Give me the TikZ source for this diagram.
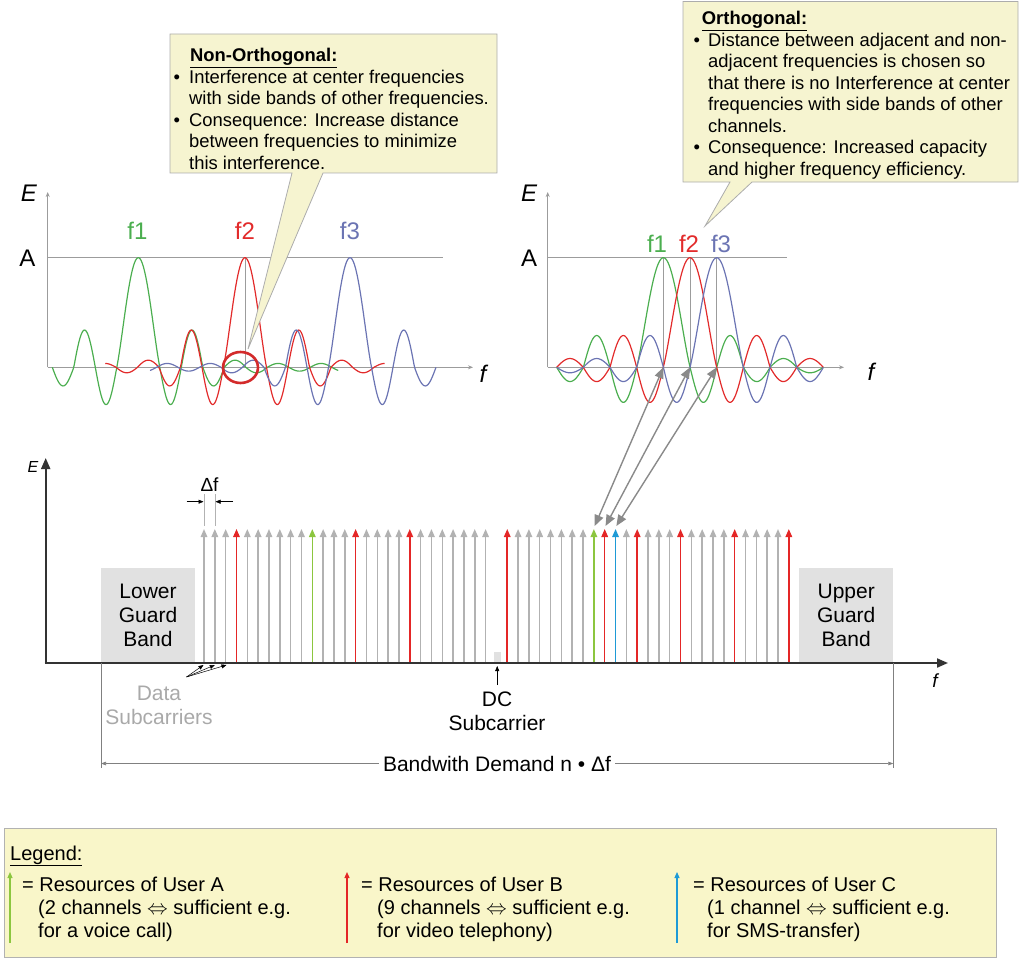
\documentclass[tikz,border=0pt]{standalone}
\usepackage{fontspec}
\setmainfont{Liberation Sans}
\usetikzlibrary{arrows.meta}
\definecolor{callfill}{HTML}{F6F4D0}
\definecolor{legfill}{HTML}{F9F6C9}
\definecolor{cgreen}{HTML}{4BAE4F}
\definecolor{cred}{HTML}{E22B2B}
\definecolor{cblue}{HTML}{6B74B3}
\definecolor{sgray}{HTML}{B2B2B2}
\definecolor{sred}{HTML}{E42626}
\definecolor{sgreen}{HTML}{8CC63F}
\definecolor{sblue}{HTML}{1E9AD6}
\definecolor{axgray}{HTML}{9C9C9C}
\definecolor{guard}{HTML}{E1E1E1}
\definecolor{darkax}{HTML}{333333}
\definecolor{linkgray}{HTML}{8A8A8A}
\definecolor{txtgray}{HTML}{A9A9A9}
\definecolor{circred}{HTML}{D32B2B}
\tikzset{
  ax/.style={draw=axgray, line width=0.8pt, -{Stealth[length=5pt,width=4pt]}},
  aline/.style={draw=axgray, line width=0.8pt},
  curve/.style={line width=1.2pt},
  plab/.style={inner sep=0pt, font=\fontsize{24}{28}\selectfont},
  plabi/.style={inner sep=0pt, font=\fontsize{24}{28}\selectfont\itshape},
  ctext/.style={anchor=base west, inner sep=0pt, font=\fontsize{18.4}{22}\selectfont},
  call/.style={fill=callfill, draw=gray!65, line width=0.8pt, line join=miter},
  big/.style={inner sep=0pt, align=center, font=\fontsize{21}{24}\selectfont},
  ltext/.style={anchor=base west, inner sep=0pt, font=\fontsize{20}{23}\selectfont},
  sc/.style={line width=1.5pt, -{Triangle[length=8pt,width=6.5pt]}},
  mainax/.style={draw=darkax, line width=2pt, -{Triangle[length=11pt,width=9pt]}},
  link/.style={draw=linkgray, line width=1.4pt, {Triangle[length=11pt,width=9pt]}-{Triangle[length=11pt,width=9pt]}},
  smallarr/.style={draw=black, line width=0.5pt, -{Triangle[length=5pt,width=4pt]}},
  dimline/.style={draw=gray, line width=0.6pt},
  legarrow/.style={line width=1.2pt, -{Triangle[length=6pt,width=5pt]}},
}
\begin{document}
\begin{tikzpicture}[x=1pt,y=-1pt,
  declare function={
    lobe(\x)=(1-\x*\x)*(1-0.5*\x*\x);
    ampL(\x)=ifthenelse(\x<3,0.34,ifthenelse(\x<4,0.17,ifthenelse(\x<5,0.065,ifthenelse(\x<6,0.05,0.035))));
    ampR(\x)=ifthenelse(\x<2,0.32,ifthenelse(\x<3,0.29,ifthenelse(\x<4,0.13,ifthenelse(\x<5,0.08,0.05))));
    shpL(\x)=ifthenelse(abs(\x)<1,lobe(\x),sin(180*abs(\x))*ampL(abs(\x)));
    shpR(\x)=ifthenelse(abs(\x)<1,lobe(\x),sin(180*abs(\x))*ampR(abs(\x)));
  }]
\useasboundingbox (0,0) rectangle (1024,960);

% ---------------- left plot ----------------
\coordinate (LO) at (47.7,367.3);
\coordinate (LE) at (47.7,192);
\coordinate (LF) at (473,367.3);
\coordinate (LA1) at (47.7,257.7);
\coordinate (LA2) at (443,257.7);
\coordinate (LV1) at (245,367.3);
\coordinate (LV2) at (245,257.7);
\draw[aline] (LA1) -- (LA2);
\draw[aline] (LV1) -- (LV2);
\draw[ax] (LO) -- (LE);
\draw[ax] (LO) -- (LF);
\draw[cgreen, curve] plot[domain=-4:9.3, samples=300] ({138.3+21.5*\x},{367.3-109.6*shpL(\x)});
\draw[cred, curve] plot[domain=-6.5:6.5, samples=300] ({245+21.5*\x},{367.3-109.6*shpL(\x)});
\draw[cblue, curve] plot[domain=-9.3:4, samples=300] ({350+21.5*\x},{367.3-109.6*shpL(\x)});
\draw[circred, line width=2.6pt] (240.5,367.5) ellipse [x radius=17.5, y radius=15.5];
\node[plabi] (LEl) at (29,193) {E};
\node[plab] (LAl) at (27.5,258.5) {A};
\node[plab, text=cgreen] (Lf1) at (137.5,231) {f1};
\node[plab, text=cred] (Lf2) at (245,231) {f2};
\node[plab, text=cblue] (Lf3) at (350,231) {f3};
\node[plabi] (Lfl) at (483,374) {f};

% ---------------- right plot ----------------
\coordinate (RO) at (547.7,367.3);
\coordinate (RE) at (547.7,192);
\coordinate (RF) at (844,367.3);
\coordinate (RA1) at (547.7,257.7);
\coordinate (RA2) at (787,257.7);
\coordinate (p1) at (663.4,367.3);
\coordinate (p2) at (690,367.3);
\coordinate (p3) at (716.7,367.3);
\coordinate (q1) at (663.4,257.7);
\coordinate (q2) at (690,257.7);
\coordinate (q3) at (716.7,257.7);
\draw[aline] (RA1) -- (RA2);
\draw[aline] (p1) -- (q1);
\draw[aline] (p2) -- (q2);
\draw[aline] (p3) -- (q3);
\draw[ax] (RO) -- (RE);
\draw[ax] (RO) -- (RF);
\draw[cgreen, curve] plot[domain=-4:6, samples=250] ({663.4+26.67*\x},{367.3-109.6*shpR(\x)});
\draw[cred, curve] plot[domain=-5:5, samples=250] ({690+26.67*\x},{367.3-109.6*shpR(\x)});
\draw[cblue, curve] plot[domain=-6:4, samples=250] ({716.7+26.67*\x},{367.3-109.6*shpR(\x)});
\node[plabi] (REl) at (529,193) {E};
\node[plab] (RAl) at (529,258.5) {A};
\node[plab, text=cgreen] (Rf1) at (657,244) {f1};
\node[plab, text=cred] (Rf2) at (689,244) {f2};
\node[plab, text=cblue] (Rf3) at (721,244) {f3};
\node[plabi] (Rfl) at (871,372) {f};

% ---------------- callouts ----------------
\draw[call] (170,34) -- (497,34) -- (497,173) -- (323,173) -- (248,349) -- (292,173) -- (170,173) -- cycle;
\node[ctext] (n0) at (190,61.5) {\underline{\textbf{Non-Orthogonal:}}};
\node[ctext] (n1) at (173.5,83.1) {\makebox[15.5pt][l]{\textbullet}Interference at center frequencies};
\node[ctext] (n2) at (189,104.7) {with side bands of other frequencies.};
\node[ctext] (n3) at (173.5,126.3) {\makebox[15.5pt][l]{\textbullet}Consequence: Increase distance};
\node[ctext] (n4) at (189,147.9) {between frequencies to minimize};
\node[ctext] (n5) at (189,169.5) {this interference.};

\draw[call] (683,1.5) -- (1018,1.5) -- (1018,182) -- (752,182) -- (705,226) -- (730,182) -- (683,182) -- cycle;
\node[ctext] (o0) at (701.7,25) {\underline{\textbf{Orthogonal:}}};
\node[ctext] (o1) at (693.5,46.5) {\makebox[14.5pt][l]{\textbullet}Distance between adjacent and non-};
\node[ctext] (o2) at (708,68) {adjacent frequencies is chosen so};
\node[ctext] (o3) at (708,89.5) {that there is no Interference at center};
\node[ctext] (o4) at (708,111) {frequencies with side bands of other};
\node[ctext] (o5) at (708,132.5) {channels.};
\node[ctext] (o6) at (693.5,154) {\makebox[14.5pt][l]{\textbullet}Consequence: Increased capacity};
\node[ctext] (o7) at (708,175.5) {and higher frequency efficiency.};

% ---------------- spectrum ----------------
\node[big, fill=guard, minimum width=94pt, minimum height=95pt] (lgb) at (148,615.5) {Lower\\Guard\\Band};
\node[big, fill=guard, minimum width=94pt, minimum height=95pt] (ugb) at (846.2,615.5) {Upper\\Guard\\Band};
\fill[guard] (494,652) rectangle (500.5,663);

\foreach \i in {0,...,54}{
  \pgfmathsetmacro\xx{204+10.83*\i}
  \coordinate (b\i) at (\xx,663);
  \coordinate (t\i) at (\xx,529);
  \coordinate (s\i) at (\xx+0.8,526);
}
\foreach \i in {0,1,2,4,5,6,7,8,9,11,12,13,15,16,17,18,20,21,22,23,24,25,26,29,30,31,32,33,34,35,39,41,42,43,45,46,47,48,50,51,52,53}
  \draw[sc, sgray] (b\i) -- (t\i);
\foreach \i in {3,14,19,28,37,40,44,49,54}
  \draw[sc, sred] (b\i) -- (t\i);
\foreach \i in {10,36}
  \draw[sc, sgreen] (b\i) -- (t\i);
\draw[sc, sblue] (b38) -- (t38);

% axes
\coordinate (SO) at (45.7,663);
\coordinate (SOx) at (44.7,663);
\coordinate (SE) at (45.7,458);
\coordinate (SF) at (948,663);
\draw[mainax] (SOx) -- (SF);
\draw[mainax] (SO) -- (SE);
\node[inner sep=0pt, font=\fontsize{16}{18}\selectfont\itshape] (SEl) at (33,467) {E};
\node[inner sep=0pt, font=\fontsize{19}{22}\selectfont\itshape] (SFl) at (935,681) {f};

% delta f
\coordinate (e1a) at (204,494);
\coordinate (e1b) at (204,526);
\coordinate (e2a) at (214.8,494);
\coordinate (e2b) at (214.8,526);
\draw[dimline, draw=sgray] (e1a) -- (e1b);
\draw[dimline, draw=sgray] (e2a) -- (e2b);
\coordinate (dfl) at (186.5,501.7);
\coordinate (dfl2) at (203.5,501.7);
\coordinate (dfr) at (233,501.7);
\coordinate (dfr2) at (215.5,501.7);
\draw[smallarr] (dfl) -- (dfl2);
\draw[smallarr] (dfr) -- (dfr2);
\node[inner sep=0pt, font=\fontsize{19}{22}\selectfont] (dflab) at (209.5,485) {Δf};

% data subcarriers
\coordinate (ds) at (186.5,677);
\coordinate (da0) at (203.5,665);
\coordinate (da1) at (214.8,665);
\coordinate (da2) at (226.5,665);
\draw[smallarr] (ds) -- (da0);
\draw[smallarr] (ds) -- (da1);
\draw[smallarr] (ds) -- (da2);
\node[big, text=txtgray] (dsl) at (159,705) {Data\\Subcarriers};

% DC
\coordinate (dc1) at (497.2,685);
\coordinate (dc2) at (497.2,666);
\draw[smallarr] (dc1) -- (dc2);
\node[big] (dcl) at (497,711) {DC\\Subcarrier};

% bandwidth
\coordinate (w1a) at (101,663);
\coordinate (w1b) at (101,768);
\coordinate (w2a) at (893.3,663);
\coordinate (w2b) at (893.3,768);
\coordinate (wl) at (101,763.5);
\coordinate (wr) at (893.3,763.5);
\draw[dimline] (w1a) -- (w1b);
\draw[dimline] (w2a) -- (w2b);
\draw[dimline, {Triangle[length=5pt,width=3.5pt]}-{Triangle[length=5pt,width=3.5pt]}] (wl) -- (wr);
\node[big, fill=white, inner xsep=4pt, inner ysep=2pt] (bw) at (497,764) {Bandwith Demand n \textbullet\ Δf};

% links to orthogonal plot
\draw[link] (s36) -- (p1);
\draw[link] (s37) -- (p2);
\draw[link] (s38) -- (p3);

% ---------------- legend ----------------
\draw[fill=legfill, draw=gray!60, line width=0.8pt] (4,828) rectangle (996,957);
\node[ltext] (leg) at (10,860) {\underline{Legend:}};
\coordinate (gA1) at (10,943);
\coordinate (gA2) at (10,872);
\coordinate (gB1) at (347,943);
\coordinate (gB2) at (347,872);
\coordinate (gC1) at (677,943);
\coordinate (gC2) at (677,872);
\draw[legarrow, sgreen] (gA1) -- (gA2);
\draw[legarrow, sred] (gB1) -- (gB2);
\draw[legarrow, sblue] (gC1) -- (gC2);
\node[ltext] (la1) at (22,891.5) {= Resources of User A};
\node[ltext] (la2) at (38,914.5) {(2 channels $\Leftrightarrow$ sufficient e.g.};
\node[ltext] (la3) at (38,937.5) {for a voice call)};
\node[ltext] (lb1) at (361,891.5) {= Resources of User B};
\node[ltext] (lb2) at (377,914.5) {(9 channels $\Leftrightarrow$ sufficient e.g.};
\node[ltext] (lb3) at (377,937.5) {for video telephony)};
\node[ltext] (lc1) at (693,891.5) {= Resources of User C};
\node[ltext] (lc2) at (707,914.5) {(1 channel $\Leftrightarrow$ sufficient e.g.};
\node[ltext] (lc3) at (707,937.5) {for SMS-transfer)};
\end{tikzpicture}
\end{document}
